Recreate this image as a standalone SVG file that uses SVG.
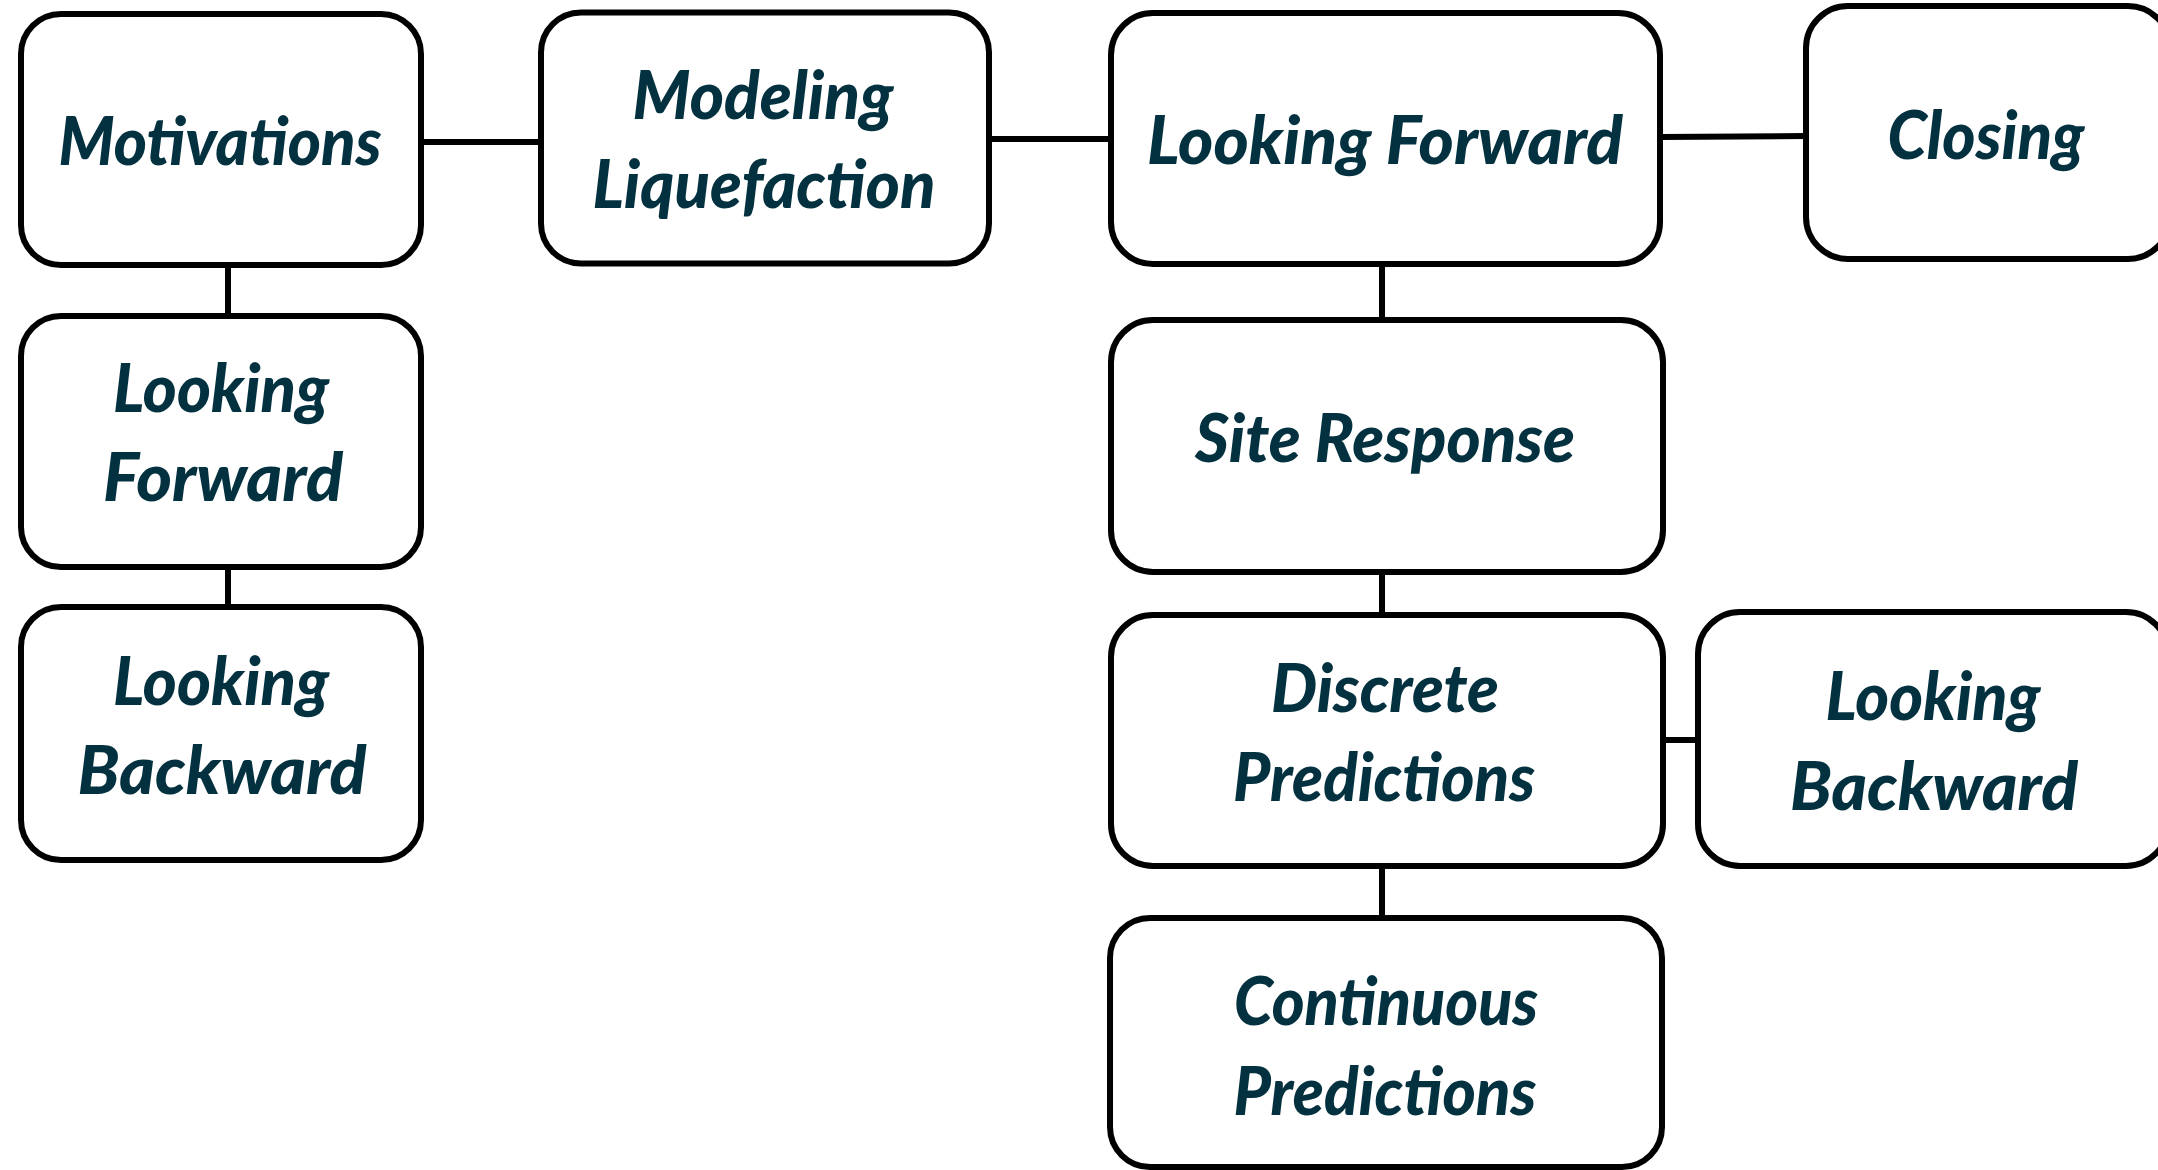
<svg xmlns="http://www.w3.org/2000/svg" width="2158" height="1170" viewBox="0 0 2158 1170">
  <style>
    .box { fill: #ffffff; stroke: #000000; stroke-width: 6; }
    .lbl { font-family: "Lato", "Liberation Sans", sans-serif; font-weight: 900; font-style: italic; font-size: 67px; fill: #04313f; text-anchor: middle; }
    .wire { stroke: #000000; stroke-width: 6; fill: none; }
  </style>
  <rect width="2158" height="1170" fill="#ffffff"/>

  <!-- connectors -->
  <g id="connectors">
    <line class="wire" x1="421" y1="142" x2="541" y2="142"/>
    <line class="wire" x1="989" y1="139" x2="1111" y2="139"/>
    <line class="wire" x1="1660" y1="137" x2="1806" y2="136"/>
    <line class="wire" x1="228" y1="265" x2="228" y2="316"/>
    <line class="wire" x1="228" y1="567" x2="228" y2="607"/>
    <line class="wire" x1="1382" y1="264" x2="1382" y2="320"/>
    <line class="wire" x1="1382" y1="572" x2="1382" y2="615"/>
    <line class="wire" x1="1382" y1="866" x2="1382" y2="918"/>
    <line class="wire" x1="1663" y1="740" x2="1698" y2="740"/>
  </g>

  <g id="motivations">
    <rect class="box" x="21" y="14" width="400" height="251" rx="40"/>
    <text class="lbl" x="220" y="165" textLength="323" lengthAdjust="spacingAndGlyphs">Motivations</text>
  </g>

  <g id="modeling-liquefaction">
    <rect class="box" x="541" y="12.5" width="448" height="251" rx="40"/>
    <text class="lbl" x="763" y="119" textLength="261" lengthAdjust="spacingAndGlyphs">Modeling</text>
    <text class="lbl" x="764" y="208" textLength="343" lengthAdjust="spacingAndGlyphs">Liquefaction</text>
  </g>

  <g id="looking-forward-main">
    <rect class="box" x="1111" y="13" width="549" height="251" rx="42"/>
    <text class="lbl" x="1385" y="164" textLength="476" lengthAdjust="spacingAndGlyphs">Looking Forward</text>
  </g>

  <g id="closing">
    <rect class="box" x="1806" y="6" width="364" height="253" rx="42"/>
    <text class="lbl" x="1986" y="159" textLength="197" lengthAdjust="spacingAndGlyphs">Closing</text>
  </g>

  <g id="looking-forward-left">
    <rect class="box" x="21" y="316" width="400" height="251" rx="40"/>
    <text class="lbl" x="221" y="412" textLength="216" lengthAdjust="spacingAndGlyphs">Looking</text>
    <text class="lbl" x="223" y="501" textLength="240" lengthAdjust="spacingAndGlyphs">Forward</text>
  </g>

  <g id="looking-backward-left">
    <rect class="box" x="21" y="607" width="400" height="253" rx="40"/>
    <text class="lbl" x="221" y="705" textLength="216" lengthAdjust="spacingAndGlyphs">Looking</text>
    <text class="lbl" x="222" y="794" textLength="289" lengthAdjust="spacingAndGlyphs">Backward</text>
  </g>

  <g id="site-response">
    <rect class="box" x="1111" y="320" width="552" height="252" rx="42"/>
    <text class="lbl" x="1385" y="462" textLength="380" lengthAdjust="spacingAndGlyphs">Site Response</text>
  </g>

  <g id="discrete-predictions">
    <rect class="box" x="1111" y="615" width="552" height="251" rx="42"/>
    <text class="lbl" x="1385" y="712" textLength="228" lengthAdjust="spacingAndGlyphs">Discrete</text>
    <text class="lbl" x="1384" y="801" textLength="302" lengthAdjust="spacingAndGlyphs">Predictions</text>
  </g>

  <g id="looking-backward-right">
    <rect class="box" x="1698" y="612" width="470" height="254" rx="42"/>
    <text class="lbl" x="1933" y="720" textLength="215" lengthAdjust="spacingAndGlyphs">Looking</text>
    <text class="lbl" x="1934" y="810" textLength="288" lengthAdjust="spacingAndGlyphs">Backward</text>
  </g>

  <g id="continuous-predictions">
    <rect class="box" x="1110" y="918" width="552" height="249" rx="40"/>
    <text class="lbl" x="1386" y="1025" textLength="304" lengthAdjust="spacingAndGlyphs">Continuous</text>
    <text class="lbl" x="1385" y="1115" textLength="303" lengthAdjust="spacingAndGlyphs">Predictions</text>
  </g>
</svg>
